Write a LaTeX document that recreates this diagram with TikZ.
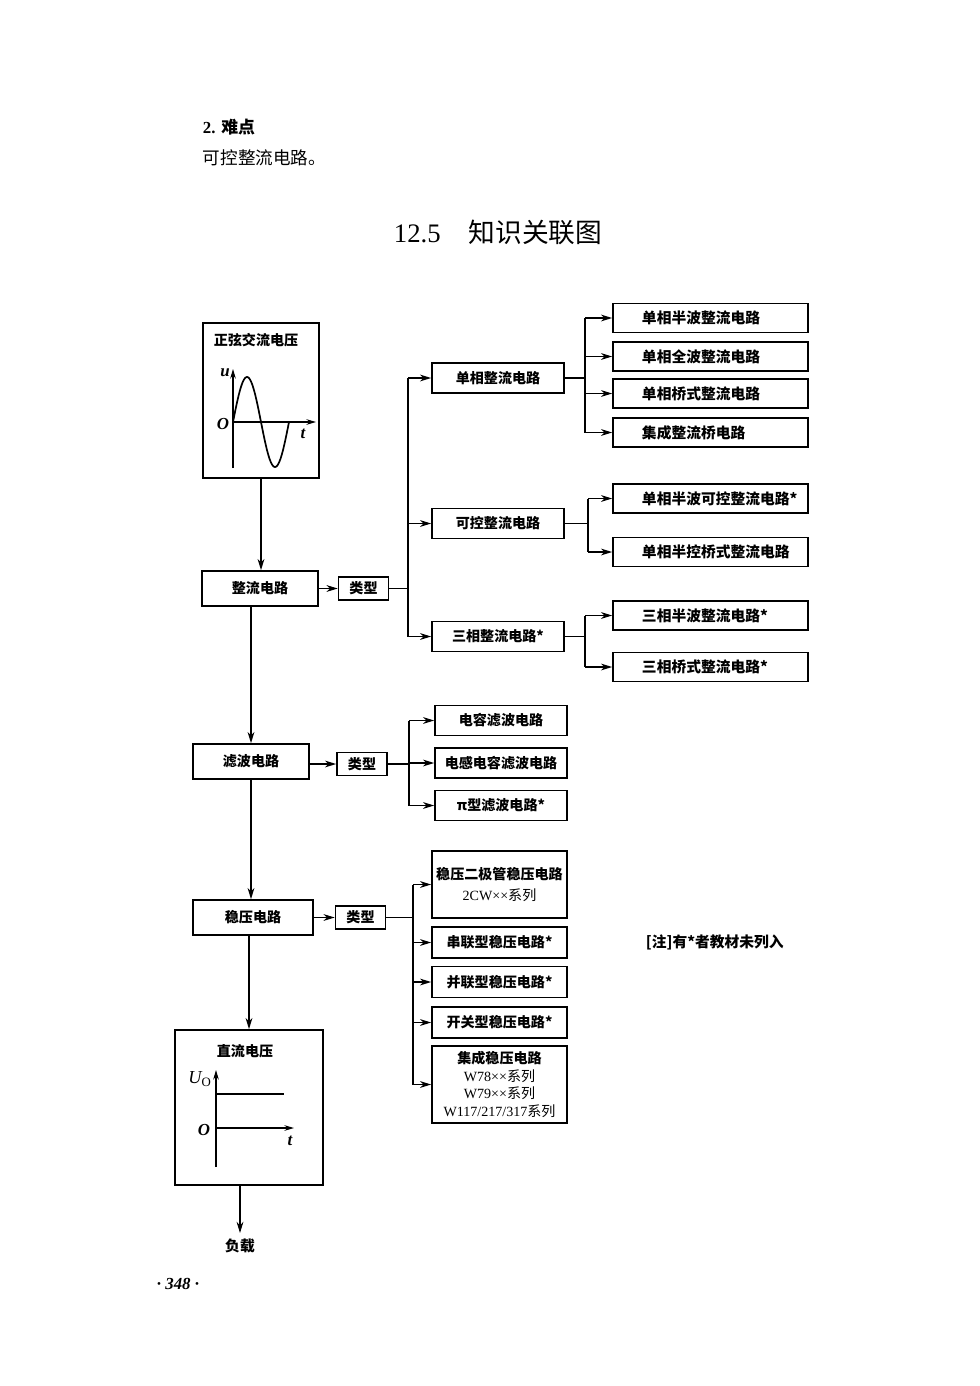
\documentclass[tikz,border=0pt]{standalone}
\usepackage{fontspec}
\setmainfont{Liberation Serif}
\newfontfamily\cjk{Noto Sans CJK SC}
\usetikzlibrary{arrows.meta}

\begin{document}
\begin{tikzpicture}[
  x=0.025cm, y=-0.025cm,
  box/.style={draw, line width=1.2pt, inner sep=1pt, align=center, font=\cjk\bfseries\fontsize{10}{12.5}\selectfont},
  main/.style={box, minimum width=2.9cm, minimum height=0.875cm},
  kind/.style={box, minimum width=1.25cm, minimum height=0.575cm},
  mid/.style={box, minimum width=3.3cm, minimum height=0.75cm},
  reg/.style={box, minimum width=3.375cm, minimum height=0.775cm},
  sub/.style={box, minimum width=4.875cm, minimum height=0.725cm, text width=3.425cm, align=left, inner xsep=0pt, font=\cjk\bfseries\fontsize{10.5}{12.5}\selectfont},
  panel/.style={draw, line width=1.2pt, minimum width=2.9cm, minimum height=3.875cm},
  txt/.style={font=\cjk\bfseries\fontsize{10}{12}\selectfont},
  sym/.style={font=\bfseries\itshape\fontsize{12}{14}\selectfont},
  arrow/.style={-{Stealth[length=2.8mm, width=1.7mm]}, line width=0.9pt},
  link/.style={line width=0.9pt},
  axis/.style={-{Stealth[length=2.4mm, width=1.4mm]}, line width=0.8pt},
]
\useasboundingbox (0,0) rectangle (979,1386);

% === Page text ===
\node[anchor=west, font=\bfseries\fontsize{12}{14}\selectfont] (hd) at (198,127) {2. {\cjk 难点}};
\node[anchor=west, font=\cjk\fontsize{12.5}{14}\selectfont] (hard) at (198,158) {可控整流电路。};
\node[anchor=west] (title) at (389,232) {{\fontsize{19}{21}\selectfont 12.5}\hspace{0.7cm}{\cjk\fontsize{19}{21}\selectfont 知识关联图}};
\node[font=\bfseries\itshape\fontsize{12}{14}\selectfont] (pg) at (178,1284) {· 348 ·};
\node[txt, anchor=west, font=\cjk\bfseries\fontsize{10.5}{12}\selectfont] (note) at (641,942) {[注]有*者教材未列入};

% === Input: sine voltage ===
\node[panel] (ac) at (261,400.5) {};
\node[txt] (actxt) at (256,340) {正弦交流电压};
\draw[axis] (233,468) -- (233,369);
\draw[axis] (233,422) -- (316,422);
\node[sym] (u) at (225,373) {u};
\node[sym] (o1) at (223,424) {O};
\node[sym] (t1) at (303,434) {t};
\draw[line width=1.2pt, domain=0:360, samples=72, smooth] plot ({233+\x/360*56}, {422-45*sin(\x)});

% === Main chain ===
\node[main] (zl) at (260,588.5) {整流电路};
\node[main] (lb) at (251,761.5) {滤波电路};
\node[main, minimum width=3cm] (wy) at (253,917.5) {稳压电路};
\node[panel, minimum width=3.7cm] (dc) at (249,1107.5) {};
\draw[arrow] (ac.south) -- (ac.south |- zl.north);
\draw[arrow] (lb.north |- zl.south) -- (lb.north);
\draw[arrow] (lb.south) -- (lb.south |- wy.north);
\draw[arrow] (dc.north |- wy.south) -- (dc.north);
\coordinate (load) at (240,1233);
\draw[arrow] (dc.south -| load) -- (load);
\node[txt, font=\cjk\bfseries\fontsize{10.5}{12}\selectfont] (fz) at (240,1246) {负载};

% === Output: DC voltage ===
\node[txt] (dctxt) at (245,1051) {直流电压};
\draw[axis] (216,1167) -- (216,1070);
\draw[axis] (216,1128) -- (294,1128);
\draw[line width=1.1pt] (216,1094) -- (284,1094);
\node[sym, font=\itshape\fontsize{13}{15}\selectfont] (uo) at (200,1079) {U\textsubscript{\upshape O}};
\node[sym] (o2) at (204,1130) {O};
\node[sym] (t2) at (290,1141) {t};

% === Rectifier types ===
\node[kind] (lx1) at (363.5,588.5) {类型};
\draw[arrow] (zl) -- (lx1);
\coordinate (jlx) at (408,588.5);
\node[mid] (dx) at (498,378) {单相整流电路};
\node[mid] (kk) at (498,523.5) {可控整流电路};
\node[mid] (sx) at (498,636.5) {三相整流电路*};
\draw[link] (lx1) -- (jlx);
\draw[link] (jlx |- dx) -- (jlx |- sx);
\draw[arrow] (jlx |- dx) -- (dx);
\draw[arrow] (jlx |- kk) -- (kk);
\draw[arrow] (jlx |- sx) -- (sx);

% single phase
\node[sub] (dxa) at (710.5,318) {单相半波整流电路};
\node[sub] (dxb) at (710.5,356.5) {单相全波整流电路};
\node[sub] (dxc) at (710.5,393.5) {单相桥式整流电路};
\node[sub] (dxd) at (710.5,432.5) {集成整流桥电路};
\coordinate (jdx) at (585,378);
\draw[link] (dx) -- (jdx);
\draw[link] (jdx |- dxa) -- (jdx |- dxd);
\draw[arrow] (jdx |- dxa) -- (dxa);
\draw[arrow] (jdx |- dxb) -- (dxb);
\draw[arrow] (jdx |- dxc) -- (dxc);
\draw[arrow] (jdx |- dxd) -- (dxd);

% controlled
\node[sub] (kka) at (710.5,498.5) {单相半波可控整流电路*};
\node[sub] (kkb) at (710.5,552) {单相半控桥式整流电路};
\coordinate (jkk) at (588,523.5);
\draw[link] (kk) -- (jkk);
\draw[link] (jkk |- kka) -- (jkk |- kkb);
\draw[arrow] (jkk |- kka) -- (kka);
\draw[arrow] (jkk |- kkb) -- (kkb);

% three phase
\node[sub] (sxa) at (710.5,615.5) {三相半波整流电路*};
\node[sub] (sxb) at (710.5,667) {三相桥式整流电路*};
\coordinate (jsx) at (585,636.5);
\draw[link] (sx) -- (jsx);
\draw[link] (jsx |- sxa) -- (jsx |- sxb);
\draw[arrow] (jsx |- sxa) -- (sxa);
\draw[arrow] (jsx |- sxb) -- (sxb);

% === Filter types ===
\node[kind] (lx2) at (362,764) {类型};
\draw[arrow] (lb.east |- lx2) -- (lx2);
\coordinate (jlb) at (409,764);
\node[mid] (lba) at (501,720.5) {电容滤波电路};
\node[mid] (lbb) at (501,763) {电感电容滤波电路};
\node[mid] (lbc) at (501,805.5) {π型滤波电路*};
\draw[link] (lx2) -- (jlb);
\draw[link] (jlb |- lba) -- (jlb |- lbc);
\draw[arrow] (jlb |- lba) -- (lba);
\draw[arrow] (jlb |- lbb) -- (lbb);
\draw[arrow] (jlb |- lbc) -- (lbc);

% === Regulator types ===
\node[kind] (lx3) at (360.5,917.5) {类型};
\draw[arrow] (wy) -- (lx3);
\coordinate (jwy) at (413,917.5);
\node[reg, minimum height=1.675cm] (wya) at (499.5,884.5) {稳压二极管稳压电路\\[3pt]{\mdseries\rmfamily 2CW××}{\mdseries 系列}};
\node[reg] (wyb) at (499.5,942.5) {串联型稳压电路*};
\node[reg] (wyc) at (499.5,982) {并联型稳压电路*};
\node[reg] (wyd) at (499.5,1022.5) {开关型稳压电路*};
\node[reg, minimum height=1.925cm] (wye) at (499.5,1084.5) {集成稳压电路\\{\mdseries\rmfamily W78××}{\mdseries 系列}\\{\mdseries\rmfamily W79××}{\mdseries 系列}\\{\mdseries\rmfamily W117/217/317}{\mdseries 系列}};
\draw[link] (lx3) -- (jwy);
\draw[link] (jwy |- wya) -- (jwy |- wye);
\draw[arrow] (jwy |- wya) -- (wya);
\draw[arrow] (jwy |- wyb) -- (wyb);
\draw[arrow] (jwy |- wyc) -- (wyc);
\draw[arrow] (jwy |- wyd) -- (wyd);
\draw[arrow] (jwy |- wye) -- (wye);

\end{tikzpicture}
\end{document}
